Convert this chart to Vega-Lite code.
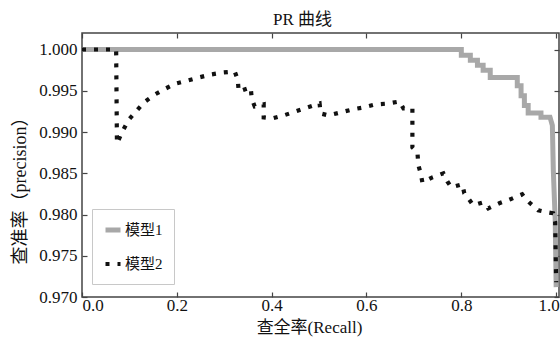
{
  "$schema": "https://vega.github.io/schema/vega-lite/v6.json",
  "width": 477,
  "height": 264,
  "autosize": {"type": "none"},
  "padding": {"left": 82, "top": 33, "right": 1, "bottom": 43},
  "background": "white",
  "title": {"text": "PR 曲线", "font": "Liberation Serif, Noto Sans CJK SC", "fontSize": 17, "fontWeight": "normal", "color": "#111", "dx": -18, "offset": 3},
  "config": {
    "view": {"stroke": "#444", "strokeWidth": 1.5},
    "axis": {"grid": false, "domain": false, "tickColor": "#444", "tickWidth": 1.2, "tickSize": -5, "labelFont": "Liberation Serif", "labelFontSize": 17, "labelColor": "#111", "titleFont": "Liberation Serif, Noto Sans CJK SC", "titleColor": "#111", "titleFontWeight": "normal"}
  },
  "data": {"values": [
    {"m": "模型1", "i": 1, "r": 0, "p": 1.0},
    {"m": "模型1", "i": 2, "r": 0.8, "p": 1.0},
    {"m": "模型1", "i": 3, "r": 0.8, "p": 0.9993},
    {"m": "模型1", "i": 4, "r": 0.819, "p": 0.9993},
    {"m": "模型1", "i": 5, "r": 0.819, "p": 0.9987},
    {"m": "模型1", "i": 6, "r": 0.834, "p": 0.9987},
    {"m": "模型1", "i": 7, "r": 0.834, "p": 0.9981},
    {"m": "模型1", "i": 8, "r": 0.846, "p": 0.9981},
    {"m": "模型1", "i": 9, "r": 0.846, "p": 0.9975},
    {"m": "模型1", "i": 10, "r": 0.861, "p": 0.9975},
    {"m": "模型1", "i": 11, "r": 0.861, "p": 0.9966},
    {"m": "模型1", "i": 12, "r": 0.918, "p": 0.9966},
    {"m": "模型1", "i": 13, "r": 0.918, "p": 0.9956},
    {"m": "模型1", "i": 14, "r": 0.926, "p": 0.9956},
    {"m": "模型1", "i": 15, "r": 0.926, "p": 0.9944},
    {"m": "模型1", "i": 16, "r": 0.933, "p": 0.9944},
    {"m": "模型1", "i": 17, "r": 0.933, "p": 0.9932},
    {"m": "模型1", "i": 18, "r": 0.941, "p": 0.9932},
    {"m": "模型1", "i": 19, "r": 0.941, "p": 0.9923},
    {"m": "模型1", "i": 20, "r": 0.968, "p": 0.9923},
    {"m": "模型1", "i": 21, "r": 0.968, "p": 0.9918},
    {"m": "模型1", "i": 22, "r": 0.987, "p": 0.9918},
    {"m": "模型1", "i": 23, "r": 0.992, "p": 0.9908},
    {"m": "模型1", "i": 24, "r": 0.994, "p": 0.9854},
    {"m": "模型1", "i": 25, "r": 0.998, "p": 0.9793},
    {"m": "模型1", "i": 26, "r": 1.0, "p": 0.9712},
    {"m": "模型2", "i": 1, "r": 0, "p": 1.0},
    {"m": "模型2", "i": 2, "r": 0.072, "p": 1.0},
    {"m": "模型2", "i": 3, "r": 0.0737, "p": 0.98862},
    {"m": "模型2", "i": 4, "r": 0.0863, "p": 0.99019},
    {"m": "模型2", "i": 5, "r": 0.0989, "p": 0.99153},
    {"m": "模型2", "i": 6, "r": 0.1158, "p": 0.99262},
    {"m": "模型2", "i": 7, "r": 0.1305, "p": 0.99358},
    {"m": "模型2", "i": 8, "r": 0.1537, "p": 0.99455},
    {"m": "模型2", "i": 9, "r": 0.1768, "p": 0.99528},
    {"m": "模型2", "i": 10, "r": 0.1979, "p": 0.99588},
    {"m": "模型2", "i": 11, "r": 0.2232, "p": 0.99625},
    {"m": "模型2", "i": 12, "r": 0.2463, "p": 0.99661},
    {"m": "模型2", "i": 13, "r": 0.2716, "p": 0.99697},
    {"m": "模型2", "i": 14, "r": 0.2989, "p": 0.99722},
    {"m": "模型2", "i": 15, "r": 0.3221, "p": 0.99734},
    {"m": "模型2", "i": 16, "r": 0.3284, "p": 0.99637},
    {"m": "模型2", "i": 17, "r": 0.3305, "p": 0.99492},
    {"m": "模型2", "i": 18, "r": 0.3558, "p": 0.9954},
    {"m": "模型2", "i": 19, "r": 0.3579, "p": 0.99407},
    {"m": "模型2", "i": 20, "r": 0.3642, "p": 0.9931},
    {"m": "模型2", "i": 21, "r": 0.3832, "p": 0.99334},
    {"m": "模型2", "i": 22, "r": 0.3832, "p": 0.99177},
    {"m": "模型2", "i": 23, "r": 0.4021, "p": 0.99165},
    {"m": "模型2", "i": 24, "r": 0.4253, "p": 0.99201},
    {"m": "模型2", "i": 25, "r": 0.4505, "p": 0.99249},
    {"m": "模型2", "i": 26, "r": 0.4758, "p": 0.99298},
    {"m": "模型2", "i": 27, "r": 0.5011, "p": 0.99346},
    {"m": "模型2", "i": 28, "r": 0.5032, "p": 0.99225},
    {"m": "模型2", "i": 29, "r": 0.52, "p": 0.99201},
    {"m": "模型2", "i": 30, "r": 0.5453, "p": 0.99237},
    {"m": "模型2", "i": 31, "r": 0.5705, "p": 0.99274},
    {"m": "模型2", "i": 32, "r": 0.5937, "p": 0.99298},
    {"m": "模型2", "i": 33, "r": 0.6189, "p": 0.99334},
    {"m": "模型2", "i": 34, "r": 0.6463, "p": 0.99346},
    {"m": "模型2", "i": 35, "r": 0.6695, "p": 0.9937},
    {"m": "模型2", "i": 36, "r": 0.6779, "p": 0.99286},
    {"m": "模型2", "i": 37, "r": 0.6968, "p": 0.99286},
    {"m": "模型2", "i": 38, "r": 0.6968, "p": 0.98814},
    {"m": "模型2", "i": 39, "r": 0.7074, "p": 0.98753},
    {"m": "模型2", "i": 40, "r": 0.7095, "p": 0.98596},
    {"m": "模型2", "i": 41, "r": 0.7137, "p": 0.98511},
    {"m": "模型2", "i": 42, "r": 0.7179, "p": 0.9839},
    {"m": "模型2", "i": 43, "r": 0.7389, "p": 0.9845},
    {"m": "模型2", "i": 44, "r": 0.7621, "p": 0.98499},
    {"m": "模型2", "i": 45, "r": 0.7705, "p": 0.98402},
    {"m": "模型2", "i": 46, "r": 0.7789, "p": 0.98329},
    {"m": "模型2", "i": 47, "r": 0.8021, "p": 0.98366},
    {"m": "模型2", "i": 48, "r": 0.8063, "p": 0.98257},
    {"m": "模型2", "i": 49, "r": 0.8147, "p": 0.98196},
    {"m": "模型2", "i": 50, "r": 0.8253, "p": 0.98111},
    {"m": "模型2", "i": 51, "r": 0.8463, "p": 0.98148},
    {"m": "模型2", "i": 52, "r": 0.8568, "p": 0.98075},
    {"m": "模型2", "i": 53, "r": 0.88, "p": 0.98136},
    {"m": "模型2", "i": 54, "r": 0.9032, "p": 0.98184},
    {"m": "模型2", "i": 55, "r": 0.9284, "p": 0.98245},
    {"m": "模型2", "i": 56, "r": 0.9347, "p": 0.98196},
    {"m": "模型2", "i": 57, "r": 0.9453, "p": 0.98136},
    {"m": "模型2", "i": 58, "r": 0.9621, "p": 0.98051},
    {"m": "模型2", "i": 59, "r": 0.9811, "p": 0.98027},
    {"m": "模型2", "i": 60, "r": 0.9937, "p": 0.98015},
    {"m": "模型2", "i": 61, "r": 0.9979, "p": 0.97906},
    {"m": "模型2", "i": 62, "r": 1.0, "p": 0.97179}
  ]},
  "layer": [
    {
      "mark": {"type": "line", "strokeCap": "butt", "strokeJoin": "miter"},
      "encoding": {
        "x": {"field": "r", "type": "quantitative", "scale": {"domain": [0, 1.006], "nice": false, "zero": false},
              "axis": {"values": [0, 0.2, 0.4, 0.6, 0.8, 1.0], "format": ".1f", "labelPadding": 5, "labelFlush": false, "labelAlign": {"expr": "datum.value >= 1 ? 'right' : datum.value <= 0 ? 'left' : 'center'"}, "labelOffset": {"expr": "datum.value >= 1 ? 3 : datum.value <= 0 ? 0 : 0"}, "title": "查全率(Recall)", "titleFontSize": 17, "titleX": 227, "titleY": 30, "titleBaseline": "middle", "titleAnchor": null}},
        "y": {"field": "p", "type": "quantitative", "scale": {"domain": [0.97, 1.002], "nice": false, "zero": false},
              "axis": {"values": [0.97, 0.975, 0.98, 0.985, 0.99, 0.995, 1.0], "format": ".3f", "labelPadding": 10, "title": "查准率（precision）", "titleFontSize": 18, "titleX": -62, "titleY": 153, "titleBaseline": "middle", "titleAngle": -90}},
        "order": {"field": "i", "type": "quantitative"},
        "color": {"field": "m", "type": "nominal", "scale": {"domain": ["模型1", "模型2"], "range": ["#a8a8a8", "#111111"]},
                  "legend": {"title": null, "orient": "none", "legendX": 10, "legendY": 176, "symbolType": "stroke", "symbolSize": 225, "symbolStrokeWidth": 4.5, "labelFont": "Liberation Serif, Noto Sans CJK SC", "labelFontSize": 15, "labelColor": "#111", "labelOffset": 2, "padding": 11, "rowPadding": 14, "strokeColor": "#c8c8c8", "fillColor": "white"}},
        "strokeDash": {"field": "m", "type": "nominal", "scale": {"domain": ["模型1", "模型2"], "range": [[1, 0], [4, 8]]}},
        "strokeWidth": {"field": "m", "type": "nominal", "scale": {"domain": ["模型1", "模型2"], "range": [5, 4.2]}, "legend": null}
      }
    },
    {
      "mark": {"type": "line", "opacity": 0},
      "encoding": {
        "x": {"field": "r", "type": "quantitative", "axis": {"orient": "top", "values": [0, 0.2, 0.4, 0.6, 0.8, 1.0], "labels": false, "title": null}},
        "y": {"field": "p", "type": "quantitative", "axis": {"orient": "right", "values": [0.97, 0.975, 0.98, 0.985, 0.99, 0.995, 1.0], "labels": false, "title": null}},
        "detail": {"field": "m", "type": "nominal"}
      }
    }
  ],
  "resolve": {"axis": {"x": "independent", "y": "independent"}}
}
